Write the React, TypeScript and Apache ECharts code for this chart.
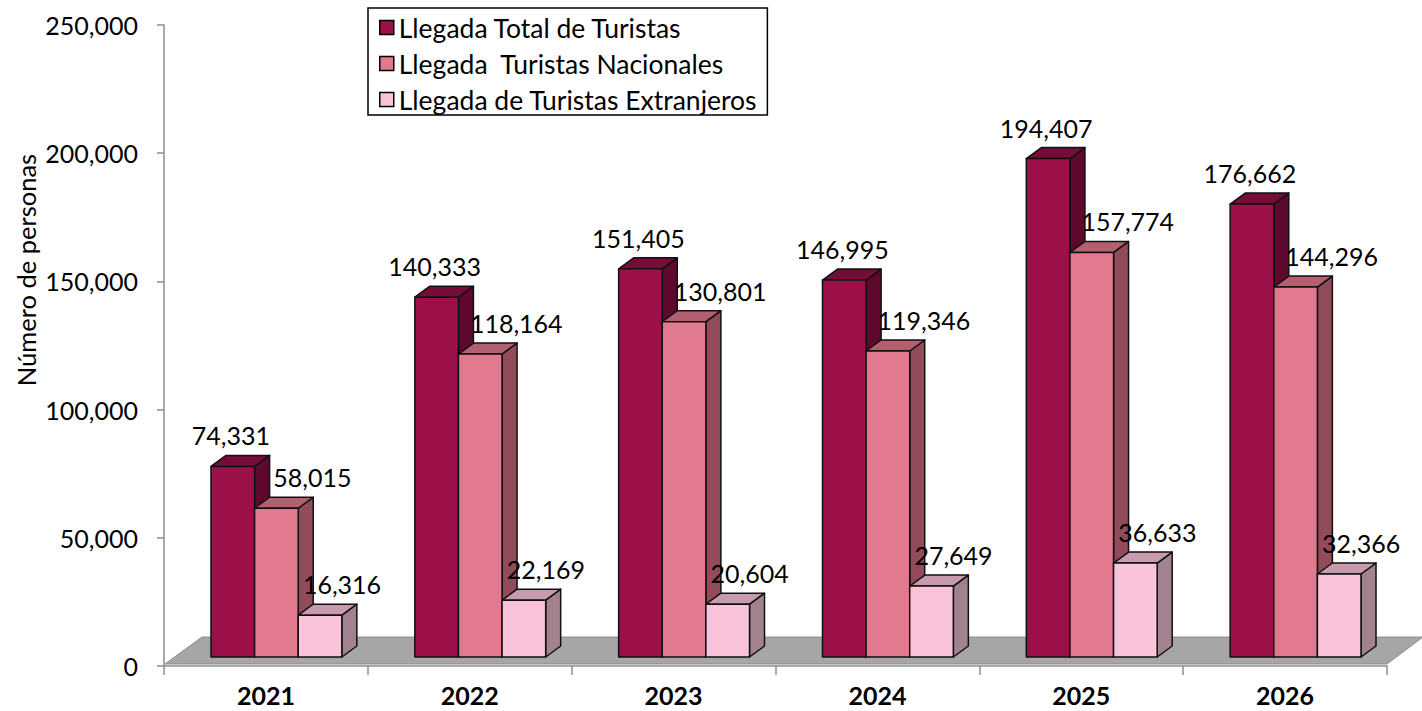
import React, { useEffect, useRef } from "react";
import * as echarts from "echarts";

const categories = ["2021", "2022", "2023", "2024", "2025", "2026"];
const totalTuristas = [74331, 140333, 151405, 146995, 194407, 176662];
const turistasNacionales = [58015, 118164, 130801, 119346, 157774, 144296];
const turistasExtranjeros = [16316, 22169, 20604, 27649, 36633, 32366];
const seriesNames = [
  "Llegada Total de Turistas",
  "Llegada  Turistas Nacionales",
  "Llegada de Turistas Extranjeros",
];
const seriesValues = [totalTuristas, turistasNacionales, turistasExtranjeros];
const yMin = 0;
const yMax = 250000;
const yInterval = 50000;
const yAxisTitle = "Número de personas";

const palettes = [
  { front: "#9B1048", top: "#760C38", side: "#5F082D" },
  { front: "#E27A8F", top: "#B25F70", side: "#924B5A" },
  { front: "#F9C4DA", top: "#C89AAE", side: "#A2828F" },
];
const labelDx = [-2, 36, 22];

const FONT = "Lato, 'Open Sans', sans-serif";
const DX = 15;
const DY = 11;
const LIFT = 9;
const fmt = (v: number) => v.toLocaleString("en-US");

export default function App() {
  const ref = useRef<HTMLDivElement>(null);
  useEffect(() => {
    document.body.style.margin = "0";
    if (!ref.current) return;
    const chart = echarts.init(ref.current, undefined, { renderer: "svg" });

    const barSeries = seriesValues.map((vals, s) => ({
      type: "custom" as const,
      name: seriesNames[s],
      z: 10 + s,
      itemStyle: { color: palettes[s].front, borderColor: "#000", borderWidth: 1.5 },
      data: vals.map((v, i) => [i, v]),
      renderItem: (params: any, api: any) => {
        const ci = api.value(0);
        const val = api.value(1);
        const base = api.coord([ci, 0]);
        const tp = api.coord([ci, val]);
        const band = api.size([1, 0])[0];
        const w = band * 0.214;
        const x0 = base[0] + band * 0.0515 - 1.5 * w + s * w;
        const x1 = x0 + w;
        const yb = base[1] - LIFT;
        const yt = tp[1] - LIFT;
        const stroke = { stroke: "#111", lineWidth: 1.5, lineJoin: "round" };
        return {
          type: "group",
          children: [
            {
              type: "polygon",
              shape: { points: [[x1, yt], [x1 + DX, yt - DY], [x1 + DX, yb - DY], [x1, yb]] },
              style: { fill: palettes[s].side, ...stroke },
            },
            {
              type: "polygon",
              shape: { points: [[x0, yt], [x1, yt], [x1 + DX, yt - DY], [x0 + DX, yt - DY]] },
              style: { fill: palettes[s].top, ...stroke },
            },
            {
              type: "rect",
              shape: { x: x0, y: yt, width: w, height: yb - yt },
              style: { fill: palettes[s].front, ...stroke },
            },
            {
              type: "text",
              x: (x0 + x1) / 2 + labelDx[s],
              y: yt - 31,
              style: {
                text: fmt(val),
                fill: "#000",
                fontSize: 25,
                fontFamily: FONT,
                align: "center",
                verticalAlign: "middle",
              },
            },
          ],
        };
      },
    }));

    const floorSeries = {
      type: "custom" as const,
      name: "floor",
      z: 1,
      silent: true,
      data: [[0, 0]],
      renderItem: (params: any) => {
        const cs = params.coordSys;
        const fy = cs.y + cs.height - 2;
        const lx = cs.x + 1;
        const rx = cs.x + cs.width;
        return {
          type: "polygon",
          shape: {
            points: [
              [lx, fy],
              [rx, fy],
              [rx + 36, fy - 27],
              [lx + 37, fy - 27],
            ],
          },
          style: { fill: "#A6A6A6", stroke: "#8C8C8C", lineWidth: 1 },
        };
      },
    };

    chart.setOption({
      animation: false,
      backgroundColor: "#fff",
      textStyle: { fontFamily: FONT },
      grid: { left: 164, right: 35, top: 25, bottom: 45 },
      legend: {
        data: seriesNames,
        orient: "vertical",
        left: 368,
        top: 8,
        icon: "rect",
        itemWidth: 14,
        itemHeight: 14,
        itemGap: 9,
        itemStyle: { borderColor: "#000", borderWidth: 1.5 },
        borderColor: "#000",
        borderWidth: 1.5,
        padding: [6, 10, 2, 11],
        textStyle: { fontSize: 26.5, lineHeight: 26, color: "#000", fontFamily: FONT },
      },
      xAxis: {
        type: "category",
        data: categories,
        axisLine: { lineStyle: { color: "#8C8C8C", width: 1.5 } },
        axisTick: { show: true, length: 9, lineStyle: { color: "#8C8C8C", width: 1.5 } },
        axisLabel: {
          fontSize: 25,
          lineHeight: 25,
          fontWeight: "bold",
          color: "#000",
          fontFamily: FONT,
          margin: 16,
        },
      },
      yAxis: {
        type: "value",
        min: yMin,
        max: yMax,
        interval: yInterval,
        axisLine: { show: true, lineStyle: { color: "#8C8C8C", width: 1.5 } },
        axisTick: { show: true, length: 7, lineStyle: { color: "#8C8C8C", width: 1.5 } },
        splitLine: { show: false },
        axisLabel: {
          fontSize: 25,
          color: "#000",
          fontFamily: FONT,
          margin: 26,
          formatter: (v: number) => fmt(v),
        },
      },
      graphic: [
        {
          type: "text",
          x: 26,
          y: 270,
          rotation: Math.PI / 2,
          style: {
            text: yAxisTitle,
            fill: "#000",
            fontSize: 25.5,
            fontFamily: FONT,
            align: "center",
            verticalAlign: "middle",
          },
        },
      ],
      series: [floorSeries, ...barSeries],
    });
    return () => chart.dispose();
  }, []);
  return <div ref={ref} style={{ width: 1422, height: 711 }} />;
}
